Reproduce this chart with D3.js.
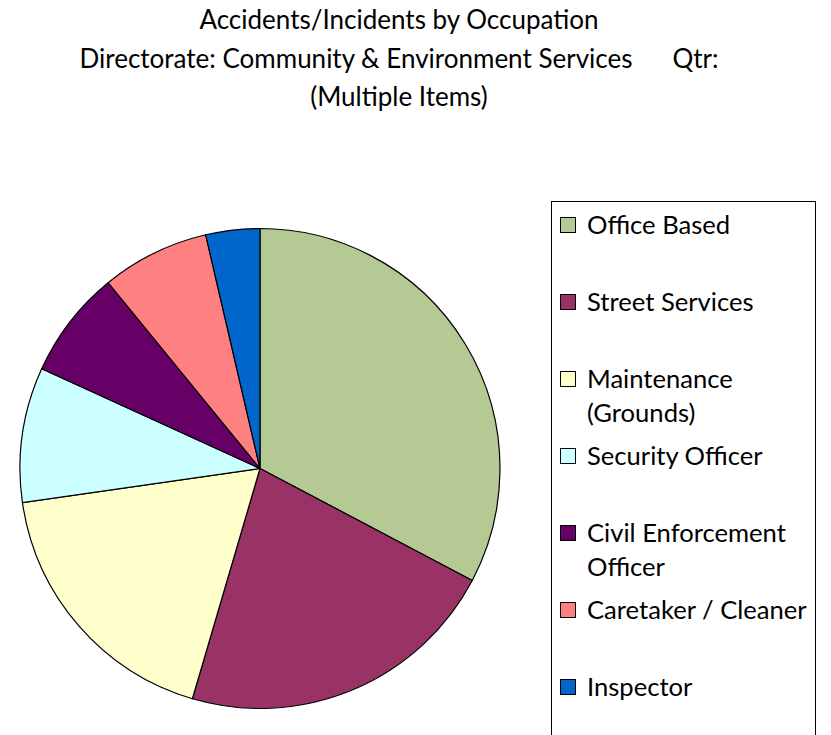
<!DOCTYPE html>
<html>
<head>
<meta charset="utf-8">
<script src="https://cdn.jsdelivr.net/npm/d3@7"></script>
<style>
  html, body { margin: 0; padding: 0; background: #fff; }
  svg { display: block; }
  text { font-family: Lato, "Open Sans", sans-serif; fill: #000; }
</style>
</head>
<body>
<svg id="chart" width="831" height="735"></svg>
<script>
// ---- data ----
const titleLines = [
  "Accidents/Incidents by Occupation",
  "Directorate: Community & Environment Services      Qtr:",
  "(Multiple Items)"
];
const categories = [
  "Office Based",
  "Street Services",
  "Maintenance (Grounds)",
  "Security Officer",
  "Civil Enforcement Officer",
  "Caretaker / Cleaner",
  "Inspector"
];
const legendLabels = [
  ["Office Based"],
  ["Street Services"],
  ["Maintenance", "(Grounds)"],
  ["Security Officer"],
  ["Civil Enforcement", "Officer"],
  ["Caretaker / Cleaner"],
  ["Inspector"]
];
const values = [18, 12, 10, 5, 4, 4, 2];
const colors = ["#B4C994", "#993366", "#FFFFCC", "#CCFFFF", "#660066", "#FF8080", "#0066CC"];

// ---- chart ----
const svg = d3.select("#chart");

// title
const title = svg.append("text")
  .attr("text-anchor", "middle")
  .style("font-size", "26px")
  .attr("xml:space", "preserve")
  .style("white-space", "pre");
title.selectAll("tspan").data(titleLines).join("tspan")
  .attr("x", 399)
  .attr("y", (d, i) => 29 + i * 38.5)
  .text(d => d);

// pie
const cx = 260, cy = 468.5, r = 240;
const color = d3.scaleOrdinal().domain(categories).range(colors);
const pie = d3.pie().sort(null).value(d => d.v);
const arcs = pie(categories.map((c, i) => ({c, v: values[i]})));
const arc = d3.arc().innerRadius(0).outerRadius(r);
svg.append("g")
  .attr("transform", `translate(${cx},${cy})`)
  .selectAll("path").data(arcs).join("path")
  .attr("d", arc)
  .attr("fill", d => color(d.data.c))
  .attr("stroke", "#000")
  .attr("stroke-width", 1.2)
  .attr("stroke-linejoin", "round");

// legend
const lg = svg.append("g");
lg.append("rect")
  .attr("x", 551.5).attr("y", 201.5)
  .attr("width", 264).attr("height", 600)
  .attr("fill", "#fff").attr("stroke", "#000").attr("stroke-width", 1);

const rowY = d3.scaleLinear().domain([0, 1]).range([234, 311]);
const items = lg.selectAll("g.item").data(categories).join("g").attr("class", "item");
items.append("rect")
  .attr("x", 560.5)
  .attr("y", (d, i) => rowY(i) - 16.5)
  .attr("width", 15).attr("height", 15)
  .attr("fill", d => color(d))
  .attr("stroke", "#000").attr("stroke-width", 1);
const it = items.append("text")
  .style("font-size", "25.6px")
  .attr("x", 587)
  .attr("y", (d, i) => rowY(i));
it.selectAll("tspan").data((d, i) => legendLabels[i]).join("tspan")
  .attr("x", 587)
  .attr("dy", (d, j) => j === 0 ? 0 : 34)
  .text(d => d);
</script>
</body>
</html>
